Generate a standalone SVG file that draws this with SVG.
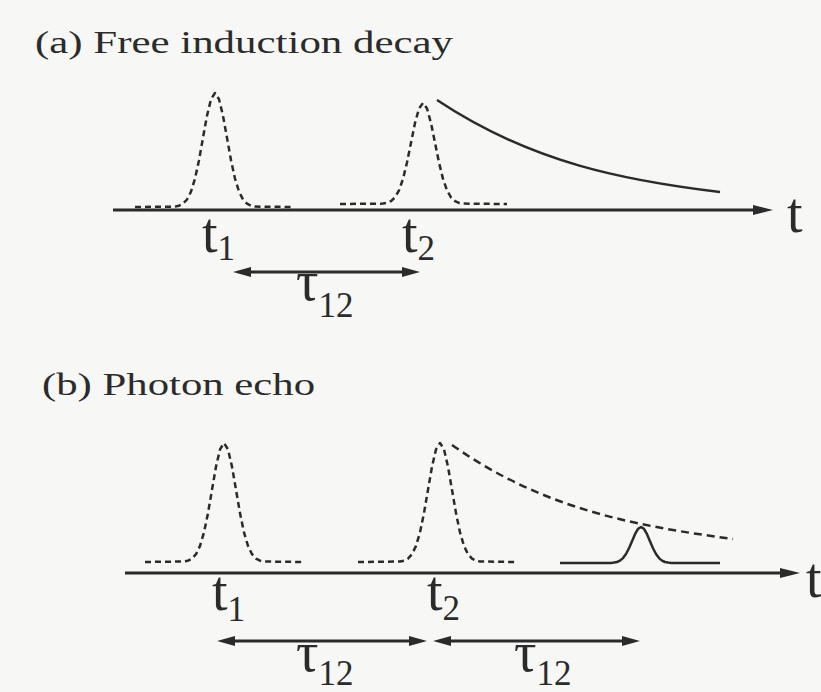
<svg xmlns="http://www.w3.org/2000/svg" width="821" height="692" viewBox="0 0 821 692">
<style>
.bg{fill:#f7f7f5}
.lbl{font-family:"Liberation Serif","DejaVu Serif",serif;fill:#2b2b2b}
.title{font-size:32px}
.big{font-size:56px}
.sub{font-size:35px}
.axis{stroke:#2b2b2b;stroke-width:3;fill:none}
.span{stroke:#2b2b2b;stroke-width:3;fill:none}
.pulse{stroke:#2b2b2b;stroke-width:2.5;fill:none;stroke-dasharray:6 4;stroke-linejoin:round}
.solid{stroke:#2b2b2b;stroke-width:2.5;fill:none;stroke-linejoin:round}
.ddecay{stroke:#2b2b2b;stroke-width:2.5;fill:none;stroke-dasharray:8 5}
</style>
<defs>
<marker id="ah" viewBox="0 0 20 10" refX="10" refY="5" markerWidth="20" markerHeight="10" markerUnits="userSpaceOnUse" orient="auto-start-reverse">
<path d="M0,0 L20,5 L0,10 Z" fill="#2b2b2b"/>
</marker>
<marker id="sh" viewBox="0 0 18 10" refX="10" refY="5" markerWidth="18" markerHeight="10" markerUnits="userSpaceOnUse" orient="auto-start-reverse">
<path d="M0,0 L18,5 L0,10 Z" fill="#2b2b2b"/>
</marker>
</defs>
<rect class="bg" x="0" y="0" width="821" height="692"/>

<g id="panel-a">
<text id="title-a" class="lbl title" x="35" y="53" textLength="418" lengthAdjust="spacingAndGlyphs">(a) Free induction decay</text>
<g id="axis-a">
<line class="axis" x1="113" y1="210" x2="763" y2="210" marker-end="url(#ah)"/>
<text class="lbl big" x="787" y="232">t</text>
</g>
<g id="pulse-a1">
<polyline class="pulse" points="135,207 175,206.6 179,205.7 183,203.7 187,199.5 191,191.6 195,178.6 199,160.2 203,137.8 207,115.7 211,99.2 215,93 219,99.2 223,115.7 227,137.8 231,160.2 235,178.6 239,191.6 243,199.5 247,203.7 251,205.7 255,206.6 293,207"/>
<text class="lbl big" x="202" y="252">t<tspan class="sub" dy="8">1</tspan></text>
</g>
<g id="pulse-a2">
<polyline class="pulse" points="340,204 383,203.6 387,202.9 391,201.1 395,197.4 399,190.4 403,178.9 407,162.5 411,142.7 415,123.1 419,108.5 423,103 427,108.5 431,123.1 435,142.7 439,162.5 443,178.9 447,190.4 451,197.4 455,201.1 459,202.9 463,203.6 507,204"/>
<text class="lbl big" x="402" y="252">t<tspan class="sub" dy="8">2</tspan></text>
</g>
<g id="fid-a">
<path class="solid" d="M437,100 C531.3,162.9 625.7,180.7 720,192"/>
</g>
<g id="tau-a">
<line class="span" x1="241" y1="272" x2="412" y2="272" marker-start="url(#sh)" marker-end="url(#sh)"/>
<text class="lbl big" x="296" y="300">τ<tspan class="sub" dy="17">12</tspan></text>
</g>
</g>

<g id="panel-b">
<text id="title-b" class="lbl title" x="42" y="395" textLength="273" lengthAdjust="spacingAndGlyphs">(b) Photon echo</text>
<g id="axis-b">
<line class="axis" x1="125" y1="573" x2="790" y2="573" marker-end="url(#ah)"/>
<text class="lbl big" x="806" y="597">t</text>
</g>
<g id="pulse-b1">
<polyline class="pulse" points="145,562 184,561.5 188,560.7 192,558.6 196,554.2 200,545.9 204,532.4 208,513.1 212,489.8 216,466.7 220,449.4 224,443 228,449.4 232,466.7 236,489.8 240,513.1 244,532.4 248,545.9 252,554.2 256,558.6 260,560.7 264,561.5 303,562"/>
<text class="lbl big" x="212" y="610">t<tspan class="sub" dy="11">1</tspan></text>
</g>
<g id="pulse-b2">
<polyline class="pulse" points="358,562 400,561.5 404,560.7 408,558.6 412,554.2 416,545.9 420,532.4 424,513.1 428,489.8 432,466.7 436,449.4 440,443 444,449.4 448,466.7 452,489.8 456,513.1 460,532.4 464,545.9 468,554.2 472,558.6 476,560.7 480,561.5 515,562"/>
<text class="lbl big" x="427" y="610">t<tspan class="sub" dy="10">2</tspan></text>
</g>
<g id="decay-b">
<path class="ddecay" d="M452,445 C545.7,510.8 639.3,526.3 733,539"/>
</g>
<g id="echo-b">
<polyline class="solid" points="560,563 611,562.9 614,562.6 617,562 620,560.6 623,558.1 626,554 629,548.2 632,541.2 635,534.2 638,528.9 641,527 644,528.9 647,534.2 650,541.2 653,548.2 656,554 659,558.1 662,560.6 665,562 668,562.6 671,562.9 720,563"/>
</g>
<g id="tau-b1">
<line class="span" x1="225" y1="641" x2="419" y2="641" marker-start="url(#sh)" marker-end="url(#sh)"/>
<text class="lbl big" x="296" y="671">τ<tspan class="sub" dy="14">12</tspan></text>
</g>
<g id="tau-b2">
<line class="span" x1="441" y1="641" x2="632" y2="641" marker-start="url(#sh)" marker-end="url(#sh)"/>
<text class="lbl big" x="514" y="671">τ<tspan class="sub" dy="14">12</tspan></text>
</g>
</g>
</svg>
